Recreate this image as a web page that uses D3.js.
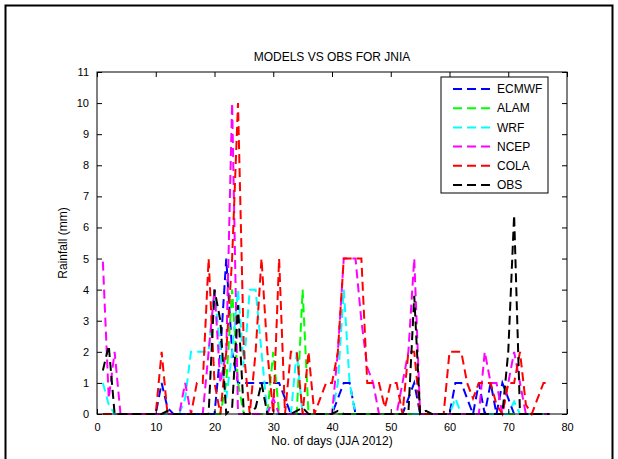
<!DOCTYPE html>
<html>
<head>
<meta charset="utf-8">
<script src="https://cdn.jsdelivr.net/npm/d3@7"></script>
<style>
  body { margin: 0; background: #fff; }
  text { font-family: "Liberation Sans", Arial, sans-serif; }
</style>
</head>
<body>
<div id="chart"></div>
<script>
// daily rainfall (mm), days 1..77
const days = d3.range(1, 78);

const ecmwf = [0,0,0,0,0,0,0,0,0,0, 1,0.2,0,0,0,0,0,0,0,0,
  2,5,2,1,1,1,1,1,1,1, 1,0.5,0,0,0,0,0,0,0,0,
  0.5,1,1,0,0,0,0,0,0,0, 0,0,0.5,1,0,0,0,0,0,0,
  1,1,0.5,0,1,0,1,0,1,0.5, 0,0,0,0,0,0,0];
const alam = [0,0,0,0,0,0,0,0,0,0, 0,0,0,0,0,0,0,0,0,0,
  0,1,4,1,0,0,0,0,0,2, 0,0,0,0,4,0,0,0,0,0,
  0,0,0,0,0,0,0,0,0,0, 0,0,0,0,0,0,0,0,0,0,
  0,0,0,0,0,0,0,0,0,0, 0,0,0,0,0,0,0];
const wrf = [1,0.3,0,0,0,0,0,0,0,0, 0,0,0,0,0.5,2,2,2,2,4,
  2,0.5,2,4,1.5,4,4,2,0,0, 0,0,0,2,0,0,0,0,0,0,
  1,4,1,0,0,0,0,0,0,0, 0,0,0,0,0,0,0,0,0,0,
  0.5,0,0,0,0,0,0,0,0,0, 0.4,0,0,0,0,0,0];
const ncep = [4.9,0.5,2,0,0,0,0,0,0,0, 0,0,0,0,1,0,0,0,2,4,
  1,2,10,0,0,0,0,0,0,0.5, 0,0,0,0,0,0,0,0,0,0,
  2,5,5,5,3,1.5,1,0,0,0, 0,1,2,5,0,0,0,0,0,0,
  0,0,0,0,0,2,1,1,0,1, 2,1,0,0,0,0,0];
const cola = [0,0,0,0,0,0,0,0,0,0, 2,0,0,0,0,0,1,1,5,1,
  0,2,5,10,2,0,2,5,2,0, 5,0,2,2,0,2,0,0.5,1,1,
  2,5,5,5,5,1,1,1,0.2,1, 1,0,2,2,0,0,0,0,0,2,
  2,2,1,0.5,1,1,1,0.3,0,1, 1,2,0.3,0,0.5,1,1];
const obs = [1.4,2.2,0,0,0,0,0,0,0,0, 0,0.1,0,0,0,0,0,0,0,4,
  3,0,0.2,3.5,0,0,0.2,1,0,0, 0,0,0,0.1,0.2,0,0,0,0,0,
  0.1,0,0,0,0,0,0,0,0,0, 0,0,0,3.8,0,0.1,0,0,0,0,
  0,0,0,0,0,0,0,0,0,2, 6.4,0,0,0,0,0,0];

const seriesNames = ["ECMWF", "ALAM", "WRF", "NCEP", "COLA", "OBS"];
const seriesValues = [ecmwf, alam, wrf, ncep, cola, obs];
const seriesColors = ["#0000ff", "#00ff00", "#00ffff", "#ff00ff", "#ff0000", "#000000"];

const xTicks = d3.range(0, 81, 10);
const yTicks = d3.range(0, 12, 1);

const W = 618, H = 459;
const margin = { top: 72, right: 51, bottom: 45, left: 97 };
const width = W - margin.left - margin.right;
const height = H - margin.top - margin.bottom;

const svg = d3.select("#chart").append("svg")
  .attr("width", W).attr("height", H);

// outer figure frame
svg.append("path")
  .attr("d", `M5.5,${H + 5}V5.5H612.5V${H + 5}`)
  .attr("fill", "none").attr("stroke", "#000").attr("stroke-width", 2);

const g = svg.append("g")
  .attr("transform", `translate(${margin.left},${margin.top})`);

const x = d3.scaleLinear().domain([0, 80]).range([0, width]);
const y = d3.scaleLinear().domain([0, 11]).range([height, 0]);

// data lines
const line = d3.line()
  .x((d, i) => x(days[i]))
  .y(d => y(d));

seriesValues.forEach((vals, k) => {
  g.append("path")
    .datum(vals)
    .attr("fill", "none")
    .attr("stroke", seriesColors[k])
    .attr("stroke-width", 2)
    .attr("stroke-dasharray", "9,5")
    .attr("d", line);
});

// axes with inward ticks, mirrored on top/right
const axisStyle = sel => {
  sel.select(".domain").remove();
  sel.selectAll("line").attr("stroke", "#000");
  sel.selectAll("text").attr("fill", "#000").style("font-size", "11px");
};

g.append("g")
  .attr("transform", `translate(0,${height})`)
  .call(d3.axisBottom(x).tickValues(xTicks).tickSizeInner(-5).tickPadding(9))
  .call(axisStyle);
g.append("g")
  .call(d3.axisLeft(y).tickValues(yTicks).tickSizeInner(-5).tickPadding(8))
  .call(axisStyle);
g.append("g")
  .call(d3.axisTop(x).tickValues(xTicks).tickSizeInner(-5).tickFormat(""))
  .call(axisStyle);
g.append("g")
  .attr("transform", `translate(${width},0)`)
  .call(d3.axisRight(y).tickValues(yTicks).tickSizeInner(-5).tickFormat(""))
  .call(axisStyle);

g.append("rect")
  .attr("width", width).attr("height", height)
  .attr("fill", "none").attr("stroke", "#000").attr("stroke-width", 1);

// title and labels
svg.append("text")
  .attr("x", margin.left + width / 2).attr("y", 61)
  .attr("text-anchor", "middle")
  .style("font-size", "12px")
  .text("MODELS VS OBS FOR JNIA");

svg.append("text")
  .attr("x", margin.left + width / 2).attr("y", 445)
  .attr("text-anchor", "middle")
  .style("font-size", "12px")
  .text("No. of days (JJA 2012)");

svg.append("text")
  .attr("transform", `translate(67,${margin.top + height / 2}) rotate(-90)`)
  .attr("text-anchor", "middle")
  .style("font-size", "12px")
  .text("Rainfall (mm)");

// legend
const legend = svg.append("g").attr("transform", "translate(441,77)");
legend.append("rect")
  .attr("width", 107).attr("height", 116)
  .attr("fill", "#fff").attr("stroke", "#000");

seriesNames.forEach((name, k) => {
  const row = legend.append("g").attr("transform", `translate(0,${12 + k * 19.2})`);
  row.append("line")
    .attr("x1", 12).attr("x2", 53)
    .attr("stroke", seriesColors[k])
    .attr("stroke-width", 2)
    .attr("stroke-dasharray", "9,5");
  row.append("text")
    .attr("x", 56).attr("dy", "0.35em")
    .style("font-size", "12px")
    .text(name);
});
</script>
</body>
</html>
